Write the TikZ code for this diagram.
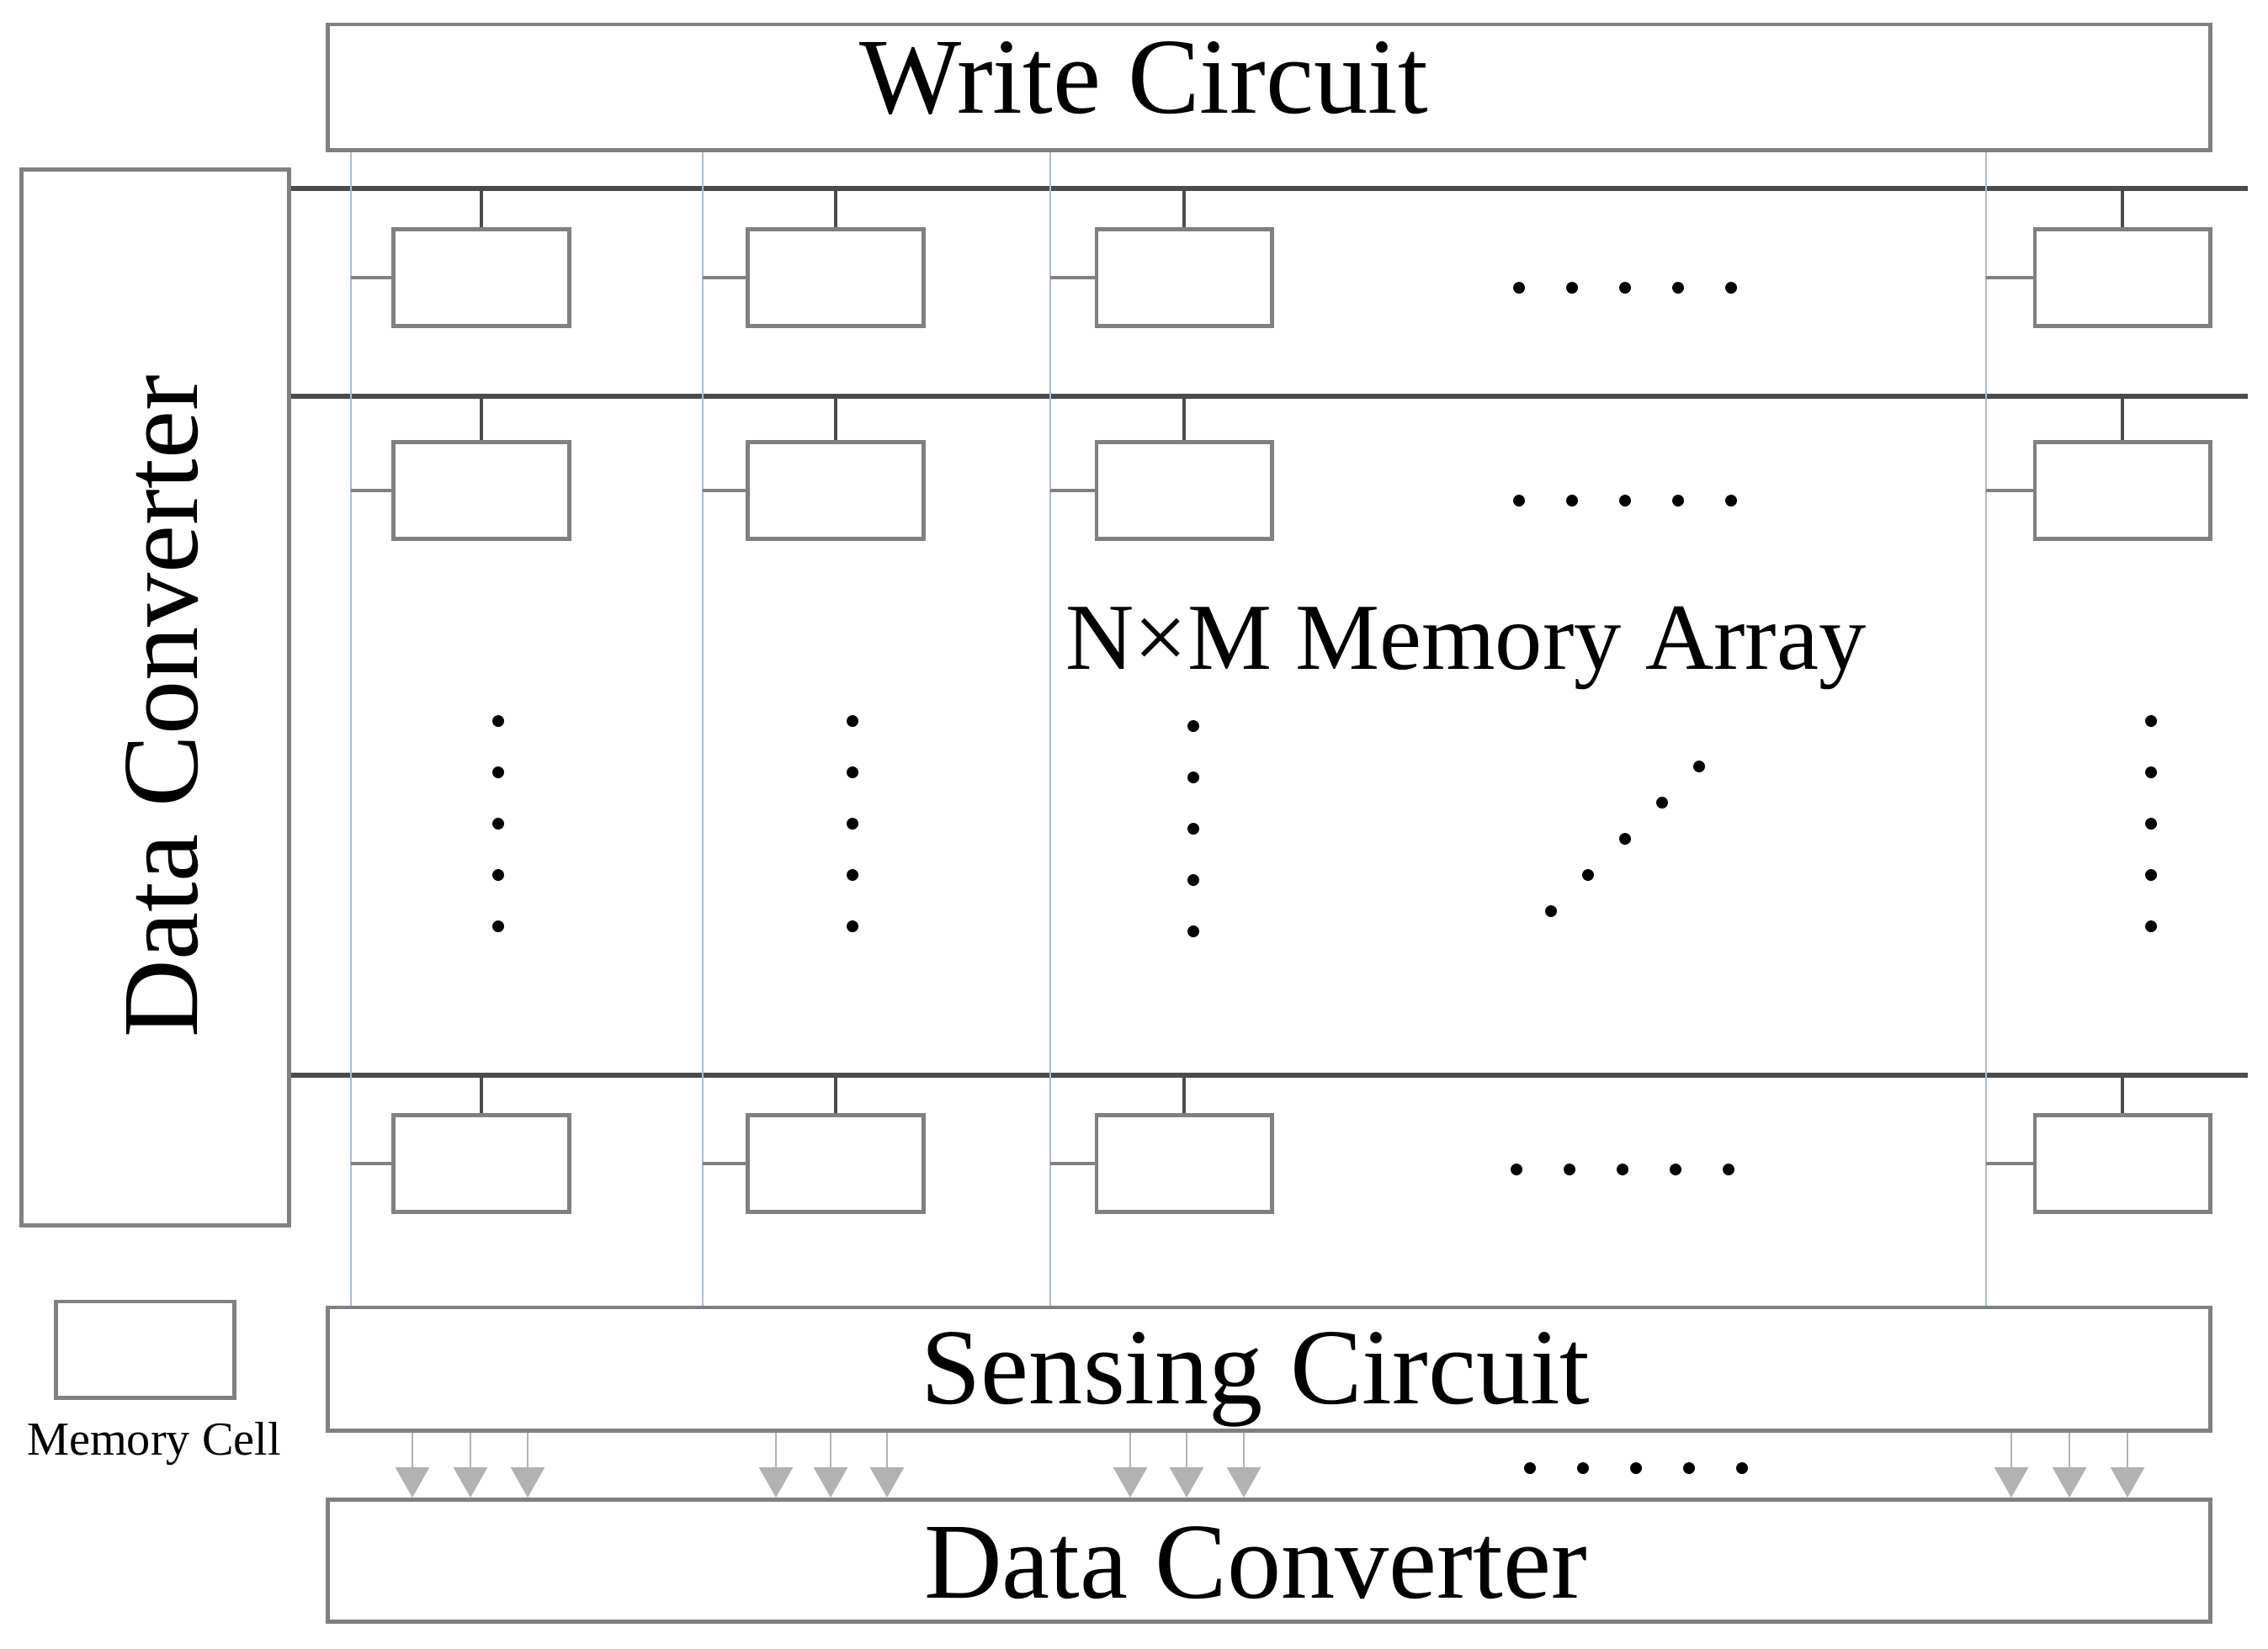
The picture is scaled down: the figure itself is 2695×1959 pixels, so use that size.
\documentclass[tikz,border=0pt]{standalone}
\usepackage{fontspec}
\setmainfont{Liberation Serif}
\usepackage{xcolor}
\usepackage{tikz}
\usetikzlibrary{arrows.meta,positioning}

\definecolor{boxgray}{RGB}{128,128,128}
\definecolor{linegray}{RGB}{75,75,75}
\definecolor{bitblue}{RGB}{165,188,228}
\definecolor{arrowgray}{RGB}{178,178,178}

\tikzset{
  block/.style={draw=boxgray, line width=1.4pt, inner sep=0pt},
  bigtext/.style={font=\fontsize{36.5}{40}\selectfont, inner sep=0pt, anchor=base},
  cell/.style={draw=boxgray, line width=1.4pt, inner sep=0pt, minimum width=2.08cm, minimum height=1.15cm},
  wordline/.style={draw=linegray, line width=1.5pt},
  bitline/.style={draw=bitblue, line width=0.6pt},
  tapline/.style={draw=linegray, line width=1pt},
  stub/.style={draw=boxgray, line width=1.3pt},
  outarrow/.style={draw=arrowgray, line width=0.8pt, -{Triangle[width=0.4cm,length=0.36cm]}},
  dot/.style={fill=black}
}

\begin{document}
\begin{tikzpicture}[x=0.01cm,y=-0.01cm]
\useasboundingbox (0,0) rectangle (2695,1959);

% blocks around the array
\node[block, minimum width=22.36cm, minimum height=1.49cm] (write) at (1508,103.5) {};
\node[block, minimum width=22.36cm, minimum height=1.46cm] (sense) at (1508,1627) {};
\node[block, minimum width=22.36cm, minimum height=1.45cm] (dconv) at (1508,1855) {};
\node[block, minimum width=3.17cm, minimum height=12.54cm] (lconv) at (184.5,829) {};
\node[bigtext] (writetext) at (1359,134) {Write Circuit};
\node[bigtext] (sensetext) at (1492,1668) {Sensing Circuit};
\node[bigtext] (dconvtext) at (1492,1899) {Data Converter};
\node[bigtext, anchor=center, rotate=90] (lconvtext) at (193,840) {Data Converter};

% word lines and cells
\foreach \r/\ry/\wy in {1/330/224,2/583/471,3/1383/1278}{
  \draw[wordline] (lconv.east |- 0,\wy) -- (2671,\wy) coordinate (w\r);
  \foreach \c/\cx in {1/572,2/993,3/1407,4/2522}{
    \node[cell] (m\r\c) at (\cx,\ry) {};
    \draw[tapline] (m\r\c.north) -- (m\r\c.north |- w\r);
  }
}

% bit lines
\foreach \c/\bx in {1/417,2/835,3/1248,4/2360}{
  \draw[bitline] (\bx,0 |- write.south) -- (\bx,0 |- sense.north);
  \foreach \r in {1,2,3}
    \draw[stub] (m\r\c.west) -- (\bx,0 |- m\r\c.west);
}

\node[font=\fontsize{32}{36}\selectfont, anchor=base] (array) at (1742,795) {N×M Memory Array};

% dots
\foreach \y/\x in {342/1805,595/1805,1390/1802,1745/1818}
  \foreach \k in {0,...,4}
    \fill[dot] (\x+\k*63,\y) circle[radius=0.07cm];
\foreach \x/\y in {592/857,1013/857,1418/863,2556/857}
  \foreach \k in {0,...,4}
    \fill[dot] (\x,\y+\k*61) circle[radius=0.07cm];
\foreach \k in {0,...,4}
  \fill[dot] (1843+\k*44,1083-\k*43) circle[radius=0.07cm];

% outputs
\foreach \ax in {490,559,627,922,987,1054,1343,1410,1478,2390,2459,2528}
  \draw[outarrow] (\ax,0 |- sense.south) -- (\ax,0 |- dconv.north);

% legend
\node[cell, minimum width=2.11cm, minimum height=1.14cm] (legend) at (172.5,1604) {};
\node[font=\fontsize{16}{18}\selectfont, anchor=base] (legendtext) at (183,1729) {Memory Cell};
\end{tikzpicture}
\end{document}
